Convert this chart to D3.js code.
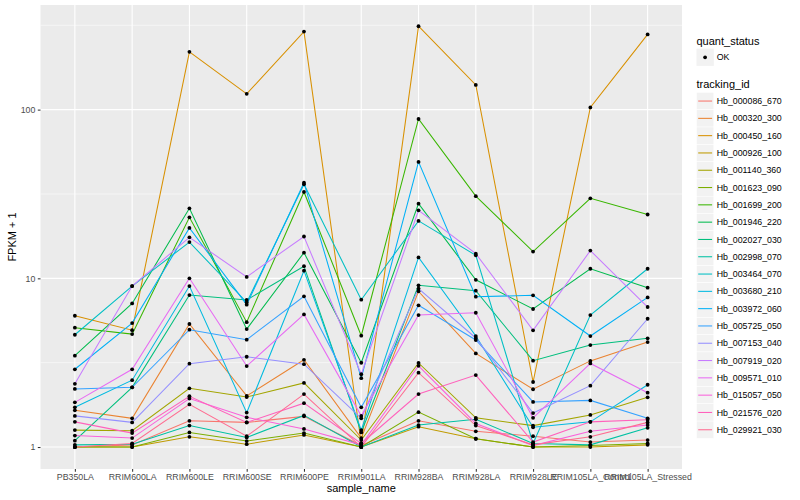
<!DOCTYPE html>
<html><head><meta charset="utf-8">
<script src="https://cdn.jsdelivr.net/npm/d3@7"></script>
<style>body{margin:0;background:#fff}text{font-family:"Liberation Sans",Arial,Helvetica,sans-serif}</style>
</head><body><svg id="c" width="800" height="500"></svg>
<script>
const samples = ["PB350LA","RRIM600LA","RRIM600LE","RRIM600SE","RRIM600PE","RRIM901LA","RRIM928BA","RRIM928LA","RRIM928LE","RRIM105LA_Control","RRIM105LA_Stressed"];
const trackingIds = ["Hb_000086_670","Hb_000320_300","Hb_000450_160","Hb_000926_100","Hb_001140_360","Hb_001623_090","Hb_001699_200","Hb_001946_220","Hb_002027_030","Hb_002998_070","Hb_003464_070","Hb_003680_210","Hb_003972_060","Hb_005725_050","Hb_007153_040","Hb_007919_020","Hb_009571_010","Hb_015057_050","Hb_021576_020","Hb_029921_030"];
const palette = ["#F8766D","#EA8331","#D89000","#C09B00","#A3A500","#7CAE00","#39B600","#00BB4E","#00BF7D","#00C1A3","#00BFC4","#00BAE0","#00B0F6","#35A2FF","#9590FF","#C77CFF","#E76BF3","#FA62DB","#FF62BC","#FF6C91"];
const yTicks = [1, 10, 100];
const yMinor = [3.1623, 31.623, 316.23];

const hb_000086_670 = [1.0, 1.03, 1.43, 1.40, 1.52, 1.02, 1.43, 1.24, 1.16, 1.07, 1.10];
const hb_000320_300 = [1.65, 1.48, 5.36, 2.01, 3.29, 1.13, 8.37, 3.59, 2.20, 3.24, 4.19];
const hb_000450_160 = [6.0, 4.93, 220, 124, 290, 1.05, 312, 140, 2.43, 103, 279];
const hb_000926_100 = [1.0, 1.0, 1.15, 1.04, 1.18, 1.0, 1.32, 1.12, 1.0, 1.0, 1.03];
const hb_001140_360 = [1.26, 1.25, 2.23, 1.98, 2.40, 1.10, 3.15, 1.49, 1.34, 1.55, 1.97];
const hb_001623_090 = [1.0, 1.0, 1.22, 1.085, 1.21, 1.0, 1.61, 1.12, 1.0, 1.02, 1.05];
const hb_001699_200 = [5.1, 4.67, 23.0, 5.5, 32.5, 4.57, 88, 30.7, 14.4, 29.8, 23.9];
const hb_001946_220 = [3.48, 7.1, 26.0, 5.0, 14.2, 3.16, 27.7, 9.8, 6.58, 11.4, 8.8];
const hb_002027_030 = [1.09, 2.26, 7.96, 7.44, 11.8, 1.22, 9.09, 8.45, 3.25, 4.02, 4.41];
const hb_002998_070 = [1.03, 1.04, 1.34, 1.14, 1.54, 1.0, 1.35, 1.46, 1.05, 1.03, 1.30];
const hb_003464_070 = [4.63, 9.0, 16.4, 7.2, 36.1, 7.47, 21.9, 13.7, 1.05, 6.06, 11.4];
const hb_003680_210 = [1.72, 2.49, 9.0, 1.60, 11.1, 1.26, 13.3, 4.55, 1.31, 1.41, 2.34];
const hb_003972_060 = [2.89, 5.43, 19.9, 6.98, 36.9, 2.56, 49, 7.78, 7.93, 4.55, 7.71];
const hb_005725_050 = [2.21, 2.26, 4.96, 4.33, 7.82, 1.72, 6.92, 4.31, 1.85, 1.89, 1.48];
const hb_007153_040 = [1.53, 1.40, 3.12, 3.43, 3.10, 1.48, 8.7, 4.43, 1.59, 2.31, 5.76];
const hb_007919_020 = [2.37, 9.0, 17.5, 10.2, 17.7, 2.70, 25.3, 14.0, 4.92, 14.6, 6.76];
const hb_009571_010 = [1.84, 2.89, 10.0, 3.02, 6.11, 1.53, 6.06, 6.25, 1.49, 3.13, 2.10];
const hb_015057_050 = [1.17, 1.13, 1.94, 1.50, 1.28, 1.03, 3.03, 1.38, 1.02, 1.24, 1.35];
const hb_021576_020 = [1.41, 1.21, 2.0, 1.40, 1.82, 1.05, 2.06, 2.67, 1.07, 1.41, 1.45];
const hb_029921_030 = [1.0, 1.05, 1.79, 1.16, 2.06, 1.0, 2.76, 1.34, 1.03, 1.15, 1.40];

const seriesValues = [hb_000086_670, hb_000320_300, hb_000450_160, hb_000926_100, hb_001140_360, hb_001623_090, hb_001699_200, hb_001946_220, hb_002027_030, hb_002998_070, hb_003464_070, hb_003680_210, hb_003972_060, hb_005725_050, hb_007153_040, hb_007919_020, hb_009571_010, hb_015057_050, hb_021576_020, hb_029921_030];

const series = trackingIds.map((id, i) => ({id, color: palette[i], values: seriesValues[i].map((v, j) => ({s: samples[j], v}))}));

const svg = d3.select("#c");
const P = {l: 40.5, r: 682, t: 5, b: 469};
const x = d3.scalePoint().domain(samples).range([P.l, P.r]).padding(0.6);
const y = d3.scaleLog().domain([0.741, 417]).range([P.b, P.t]);

svg.append("rect").attr("x", P.l).attr("y", P.t).attr("width", P.r - P.l).attr("height", P.b - P.t).attr("fill", "#EBEBEB");
const grid = svg.append("g");
grid.selectAll(".mn").data(yMinor).join("line").attr("x1", P.l).attr("x2", P.r).attr("y1", d => y(d)).attr("y2", d => y(d)).attr("stroke", "#fff").attr("stroke-width", 0.55);
grid.selectAll(".mj").data(yTicks).join("line").attr("x1", P.l).attr("x2", P.r).attr("y1", d => y(d)).attr("y2", d => y(d)).attr("stroke", "#fff").attr("stroke-width", 1.1);
grid.selectAll(".vx").data(samples).join("line").attr("x1", d => x(d)).attr("x2", d => x(d)).attr("y1", P.t).attr("y2", P.b).attr("stroke", "#fff").attr("stroke-width", 1.1);

const line = d3.line().x(d => x(d.s)).y(d => y(d.v));
svg.append("g").selectAll("path").data(series).join("path").attr("d", d => line(d.values)).attr("fill", "none").attr("stroke", d => d.color).attr("stroke-width", 1.05);
svg.append("g").selectAll("g").data(series).join("g").selectAll("circle").data(d => d.values).join("circle").attr("cx", d => x(d.s)).attr("cy", d => y(d.v)).attr("r", 1.9).attr("fill", "#000");

// axes
const xa = d3.axisBottom(x).tickSize(2.7).tickPadding(2.5);
const gx = svg.append("g").attr("transform", `translate(0,${P.b})`).call(xa);
const ya = d3.axisLeft(y).tickValues(yTicks).tickFormat(d3.format("d")).tickSize(2.7).tickPadding(2.5);
const gy = svg.append("g").attr("transform", `translate(${P.l},0)`).call(ya);
[gx, gy].forEach(g => {
  g.select(".domain").remove();
  g.selectAll(".tick line").attr("stroke", "#333333").attr("stroke-width", 1.05);
  g.selectAll(".tick text").attr("fill", "#4D4D4D").attr("font-size", "8.8px").style("font-family", '"Liberation Sans",Arial,sans-serif');
});

svg.append("text").attr("x", (P.l + P.r) / 2).attr("y", 492).attr("text-anchor", "middle").attr("font-size", "11px").attr("fill", "#000").text("sample_name");
svg.append("text").attr("transform", `translate(16,${(P.t + P.b) / 2}) rotate(-90)`).attr("text-anchor", "middle").attr("font-size", "11px").attr("fill", "#000").text("FPKM + 1");

// legend
const L = svg.append("g");
L.append("text").attr("x", 696.5).attr("y", 44.5).attr("font-size", "11px").text("quant_status");
L.append("rect").attr("x", 696.5).attr("y", 48.6).attr("width", 17.3).attr("height", 17.3).attr("fill", "#F2F2F2");
L.append("circle").attr("cx", 705.1).attr("cy", 57.3).attr("r", 1.9).attr("fill", "#000");
L.append("text").attr("x", 716.7).attr("y", 60.4).attr("font-size", "8.8px").text("OK");
L.append("text").attr("x", 696.5).attr("y", 88.3).attr("font-size", "11px").text("tracking_id");
const keys = L.selectAll(".k").data(series).join("g").attr("transform", (d, i) => `translate(696.5,${92.4 + i * 17.3})`);
keys.append("rect").attr("width", 17.3).attr("height", 17.3).attr("fill", "#F2F2F2").attr("stroke", "#fff").attr("stroke-width", 0.5);
keys.append("line").attr("x1", 1.7).attr("x2", 15.6).attr("y1", 8.65).attr("y2", 8.65).attr("stroke", d => d.color).attr("stroke-width", 1.05);
keys.append("text").attr("x", 20.2).attr("y", 11.8).attr("font-size", "8.8px").text(d => d.id);
</script></body></html>
